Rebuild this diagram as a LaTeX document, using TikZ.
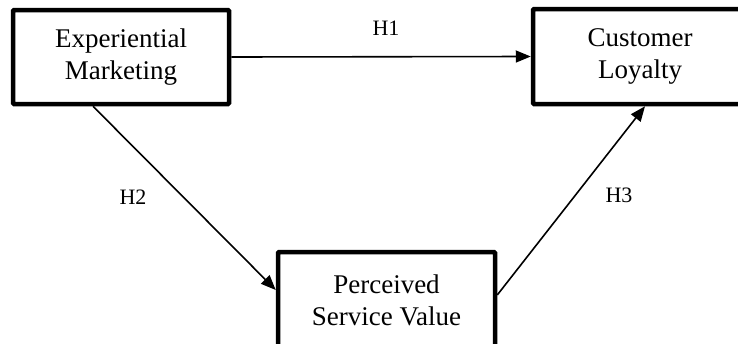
\documentclass[tikz,border=0pt]{standalone}
\usepackage{fontspec}
\setmainfont{Liberation Serif}
\usetikzlibrary{arrows.meta}
\begin{document}
\begin{tikzpicture}[x=1pt,y=-1pt,
  box/.style={draw, line width=4.5pt, rounded corners=1pt, align=center,
    font=\fontsize{27}{32}\selectfont, inner sep=0pt},
  link/.style={line width=1.6pt, -{Triangle[length=15pt,width=12pt]}},
  hyp/.style={font=\fontsize{22}{24}\selectfont}]
\clip (0,0) rectangle (738,343);
\fill[white] (0,0) rectangle (738,343);
\node[box, minimum width=216pt, minimum height=94pt] (exp) at (121,57) {Experiential\\Marketing};
\node[box, minimum width=214pt, minimum height=95pt] (cust) at (640,56.5) {Customer\\Loyalty};
\node[box, minimum width=217pt, minimum height=96pt] (pv) at (386.5,300) {Perceived\\Service Value};
\draw[link] (exp.east) -- (cust.west);
\draw[link] ([xshift=-28pt]exp.south) -- ([yshift=10pt]pv.west);
\draw[link] ([yshift=5pt]pv.east) -- ([xshift=5pt]cust.south);
\node[hyp] (h1) at (386,28) {H1};
\node[hyp] (h2) at (133,197) {H2};
\node[hyp] (h3) at (619,195) {H3};
\end{tikzpicture}
\end{document}
